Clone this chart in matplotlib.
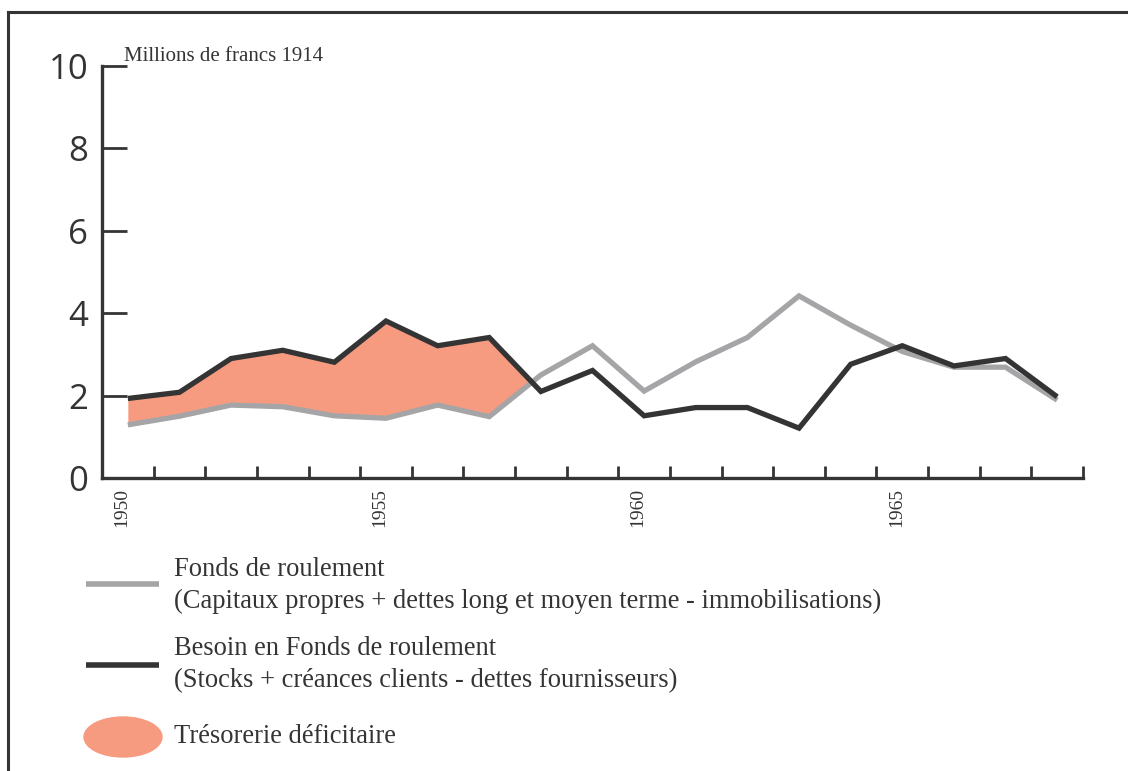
import matplotlib
matplotlib.use("Agg")
import matplotlib.pyplot as plt
import matplotlib.transforms as mtransforms
from matplotlib.lines import Line2D
from matplotlib.patches import Ellipse
from matplotlib.ticker import FixedLocator, NullFormatter
import numpy as np

# data (millions de francs 1914)
years = list(range(1950, 1969))
fonds_roulement = [1.29, 1.50, 1.77, 1.73, 1.51, 1.45, 1.77, 1.49, 2.50, 3.21,
                   2.11, 2.82, 3.41, 4.42, 3.71, 3.07, 2.69, 2.69, 1.89]
besoin_fr = [1.93, 2.08, 2.90, 3.10, 2.81, 3.81, 3.21, 3.41, 2.10, 2.61,
             1.51, 1.71, 1.71, 1.21, 2.76, 3.21, 2.72, 2.90, 1.97]
deficit_until = 1959  # shaded period only covers the 1950s
year_labels = [1950, 1955, 1960, 1965]
y_ticks = [0, 2, 4, 6, 8, 10]

legend_lines = [
    ("Fonds de roulement",
     "(Capitaux propres + dettes long et moyen terme - immobilisations)"),
    ("Besoin en Fonds de roulement",
     "(Stocks + créances clients - dettes fournisseurs)"),
]
legend_fill = "Trésorerie déficitaire"

DARK = "#343434"
GREY = "#a5a5a8"
SALMON = "#f79b80"
W, H = 1128, 771

fig = plt.figure(figsize=(W / 100, H / 100), dpi=100)
ax = fig.add_axes([102 / W, 1 - 478 / H, (1083 - 102) / W, (478 - 66) / H])

x = np.array(years, dtype=float)
fr = np.array(fonds_roulement)
bfr = np.array(besoin_fr)

ax.fill_between(x, fr, bfr, where=(bfr > fr) & (x < deficit_until),
                interpolate=True, color=SALMON, linewidth=0, zorder=1)
ax.plot(x, fr, color=GREY, lw=3.8, solid_joinstyle="miter",
        solid_capstyle="butt", zorder=2)
ax.plot(x, bfr, color=DARK, lw=3.8, solid_joinstyle="miter",
        solid_capstyle="butt", zorder=3)

ax.set_xlim(1949.5, 1968.5)
ax.set_ylim(0, 10)

for s in ["top", "right"]:
    ax.spines[s].set_visible(False)
for s in ["left", "bottom"]:
    ax.spines[s].set_color(DARK)
    ax.spines[s].set_linewidth(2.4)

ax.set_yticks(y_ticks)
ax.set_yticklabels([str(v) for v in y_ticks], fontfamily="Open Sans",
                   fontsize=25, color=DARK)
ax.tick_params(axis="y", direction="in", length=18, width=2, color=DARK, pad=10)

ax.xaxis.set_major_locator(FixedLocator(year_labels))
ax.set_xticklabels([str(v) for v in year_labels], rotation=90,
                   fontfamily="Liberation Serif", fontsize=14, color=DARK)
ax.xaxis.set_minor_locator(FixedLocator([y + 0.5 for y in years]))
ax.xaxis.set_minor_formatter(NullFormatter())
ax.tick_params(axis="x", which="major", length=0, pad=7)
ax.tick_params(axis="x", which="minor", direction="in", length=9, width=2,
               color=DARK)
shift = mtransforms.ScaledTranslation(-6 / 100, 0, fig.dpi_scale_trans)
for lab in ax.get_xticklabels():
    lab.set_transform(lab.get_transform() + shift)

ax.text(0.022, 1.0, "Millions de francs 1914", transform=ax.transAxes,
        fontfamily="Liberation Serif", fontsize=15, color=DARK,
        ha="left", va="bottom")

# frame around the figure
fig.add_artist(Line2D([8 / W, 8 / W], [0, 1 - 12 / H], color=DARK, lw=2.2,
                      transform=fig.transFigure))
fig.add_artist(Line2D([8 / W, 1], [1 - 12 / H, 1 - 12 / H], color=DARK,
                      lw=2.2, transform=fig.transFigure))

# legend drawn by hand
serif = dict(fontfamily="Liberation Serif", fontsize=19.1, color=DARK,
             va="baseline", ha="left")
for (title, detail), color, ly, b1, b2 in [
        (legend_lines[0], GREY, 584, 576, 608),
        (legend_lines[1], DARK, 665, 655, 687)]:
    fig.add_artist(Line2D([86 / W, 159 / W], [1 - ly / H, 1 - ly / H],
                          color=color, lw=4, solid_capstyle="butt",
                          transform=fig.transFigure))
    fig.text(174 / W, 1 - b1 / H, title, **serif)
    fig.text(174 / W, 1 - b2 / H, detail, **serif)

fig.add_artist(Ellipse((123 / W, 1 - 737 / H), 78 / W, 40 / H,
                       color=SALMON, transform=fig.transFigure))
fig.text(174 / W, 1 - 743 / H, legend_fill, **serif)

fig.savefig("out.png", dpi=100)
